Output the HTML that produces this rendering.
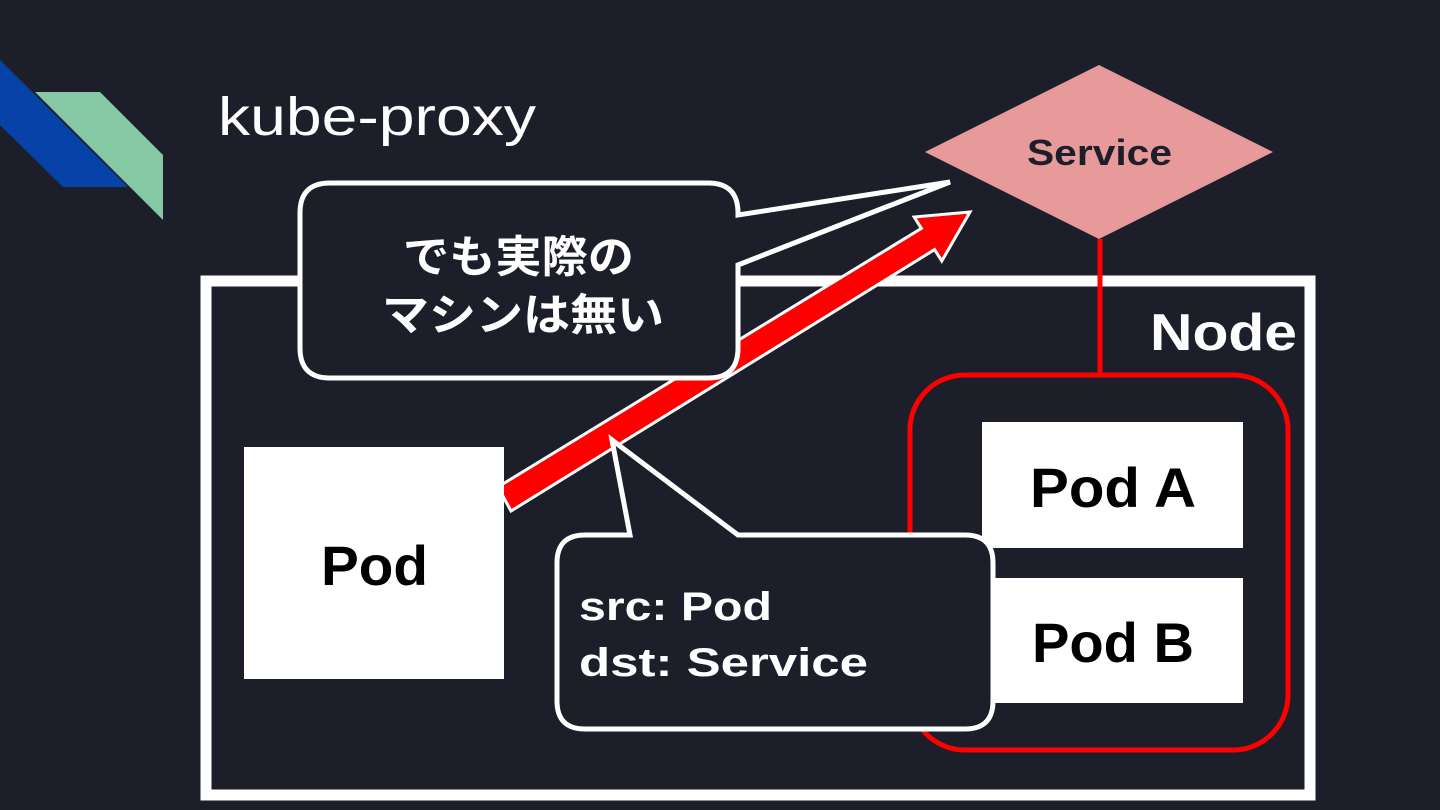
<!DOCTYPE html>
<html><head><meta charset="utf-8"><style>
html,body{margin:0;padding:0;background:#1c1f2a;}
svg{display:block}
text{font-family:"Liberation Sans","Noto Sans CJK JP",sans-serif;}
</style></head><body>
<svg width="1440" height="810" viewBox="0 0 1440 810" xmlns="http://www.w3.org/2000/svg">
<rect width="1440" height="810" fill="#1c1f2a"/>
<polygon points="0,60 128,187 63,187 0,125" fill="#0742a8"/>
<polygon points="35,92 100,92 163,155 163,220" fill="#86c8a4"/>
<text x="218" y="135" font-size="54" fill="#ffffff" textLength="318" lengthAdjust="spacingAndGlyphs">kube-proxy</text>

<rect x="206" y="281" width="1104" height="514" fill="none" stroke="#fff" stroke-width="11"/>
<text x="1150" y="350" font-size="52" font-weight="bold" fill="#fff" textLength="147" lengthAdjust="spacingAndGlyphs">Node</text>

<polygon points="925,152 1099,65 1273,152 1099,239" fill="#e89a9a"/>
<text x="1027" y="165" font-size="36" font-weight="bold" fill="#1c1f2a" textLength="145" lengthAdjust="spacingAndGlyphs">Service</text>
<line x1="1100" y1="239" x2="1100" y2="375" stroke="#f00" stroke-width="5"/>
<rect x="910" y="375" width="378" height="375" rx="55" fill="none" stroke="#f00" stroke-width="5"/>

<!-- arrow -->
<polygon points="498,487 921.4,228.4 914.2,217 970,212 941.8,261 934.6,249.6 511,511" fill="#f00" stroke="#fff" stroke-width="3" stroke-linejoin="miter"/>

<rect x="982" y="422" width="261" height="126" fill="#fff"/>
<text x="1030" y="507" font-size="56" font-weight="bold" fill="#000" textLength="166" lengthAdjust="spacingAndGlyphs">Pod A</text>
<rect x="982" y="578" width="261" height="125" fill="#fff"/>
<text x="1032" y="662" font-size="56" font-weight="bold" fill="#000" textLength="162" lengthAdjust="spacingAndGlyphs">Pod B</text>

<rect x="244" y="447" width="260" height="232" fill="#fff"/>
<text x="321" y="585" font-size="56" font-weight="bold" fill="#000" textLength="107" lengthAdjust="spacingAndGlyphs">Pod</text>

<!-- top callout -->
<path d="M330,183 H708 Q738,183 738,213 V215 L950,182 L738,265 V348 Q738,378 708,378 H330 Q300,378 300,348 V213 Q300,183 330,183 Z" fill="#1c1f2a" stroke="#fff" stroke-width="5"/>
<text x="403" y="272" font-size="44" font-weight="bold" fill="#fff" textLength="231" lengthAdjust="spacingAndGlyphs">でも実際の</text>
<text x="382" y="330" font-size="44" font-weight="bold" fill="#fff" textLength="282" lengthAdjust="spacingAndGlyphs">マシンは無い</text>

<!-- bottom callout -->
<path d="M585,535 H630 L612,440 L738,535 H965 Q993,535 993,563 V701 Q993,729 965,729 H585 Q557,729 557,701 V563 Q557,535 585,535 Z" fill="#1c1f2a" stroke="#fff" stroke-width="5"/>
<text x="579" y="620" font-size="40" font-weight="bold" fill="#fff" textLength="193" lengthAdjust="spacingAndGlyphs">src: Pod</text>
<text x="579" y="676" font-size="40" font-weight="bold" fill="#fff" textLength="289" lengthAdjust="spacingAndGlyphs">dst: Service</text>
</svg>
</body></html>
